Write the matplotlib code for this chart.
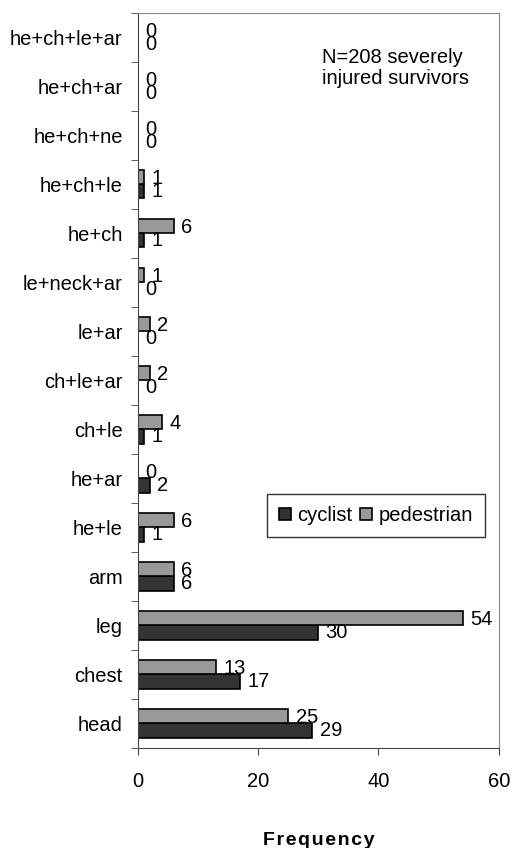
import matplotlib
matplotlib.use("Agg")
import matplotlib.pyplot as plt
import numpy as np

plt.rcParams["font.family"] = ["Liberation Sans", "DejaVu Sans"]

categories = ["head", "chest", "leg", "arm", "he+le", "he+ar", "ch+le", "ch+le+ar",
              "le+ar", "le+neck+ar", "he+ch", "he+ch+le", "he+ch+ne", "he+ch+ar",
              "he+ch+le+ar"]
cyclist = [29, 17, 30, 6, 1, 2, 1, 0, 0, 0, 1, 1, 0, 0, 0]
pedestrian = [25, 13, 54, 6, 6, 0, 4, 2, 2, 1, 6, 1, 0, 0, 0]

fs = 14.5

fig = plt.figure(figsize=(5.11, 8.48), dpi=100)
ax = fig.add_axes([0.270, 0.118, 0.706, 0.867])

y = np.arange(len(categories))
h = 0.29
b1 = ax.barh(y - h / 2, cyclist, height=h, color="#333333", edgecolor="black",
             linewidth=1.2, label="cyclist")
b2 = ax.barh(y + h / 2, pedestrian, height=h, color="#999999", edgecolor="black",
             linewidth=1.2, label="pedestrian")

# Excel-style data labels, centred on their bars
for i in range(len(categories)):
    ax.text(cyclist[i] + 1.2, y[i] - h / 2, str(cyclist[i]),
            va="center", ha="left", fontsize=fs)
    ax.text(pedestrian[i] + 1.2, y[i] + h / 2 - 0.02, str(pedestrian[i]),
            va="center", ha="left", fontsize=fs)

ax.set_xlim(0, 60)
ax.set_ylim(-0.5, len(categories) - 0.5)
ax.set_xticks([0, 20, 40, 60])
ax.set_yticks(y)
ax.set_yticklabels(categories, fontsize=fs)
ax.set_yticks(np.arange(-0.5, len(categories), 1), minor=True)
ax.tick_params(axis="y", which="major", length=0, pad=11)
ax.tick_params(axis="y", which="minor", length=5, direction="out", color="#444444")
ax.tick_params(axis="x", length=5, direction="out", labelsize=fs, pad=12, color="#444444")

for s in ["top", "right"]:
    ax.spines[s].set_color("#888888")
for s in ["left", "bottom"]:
    ax.spines[s].set_color("#444444")

ax.set_xlabel("F\u200ar\u200ae\u200aq\u200au\u200ae\u200an\u200ac\u200ay", fontsize=14,
              fontweight="bold", labelpad=30)

ax.text(0.51, 0.925, "N=208 severely\ninjured survivors", transform=ax.transAxes,
        fontsize=fs, va="center", ha="left", linespacing=1.15)

leg = ax.legend(handles=[b1, b2], loc="center left", bbox_to_anchor=(0.357, 0.316),
                ncol=2, frameon=True, fancybox=False, edgecolor="black", fontsize=fs,
                handlelength=0.6, handleheight=0.6, handletextpad=0.3, columnspacing=0.4,
                borderpad=0.6, borderaxespad=0)
leg.get_frame().set_linewidth(1.0)
leg._legend_box.sep = 0

fig.savefig("out.png", dpi=100)
